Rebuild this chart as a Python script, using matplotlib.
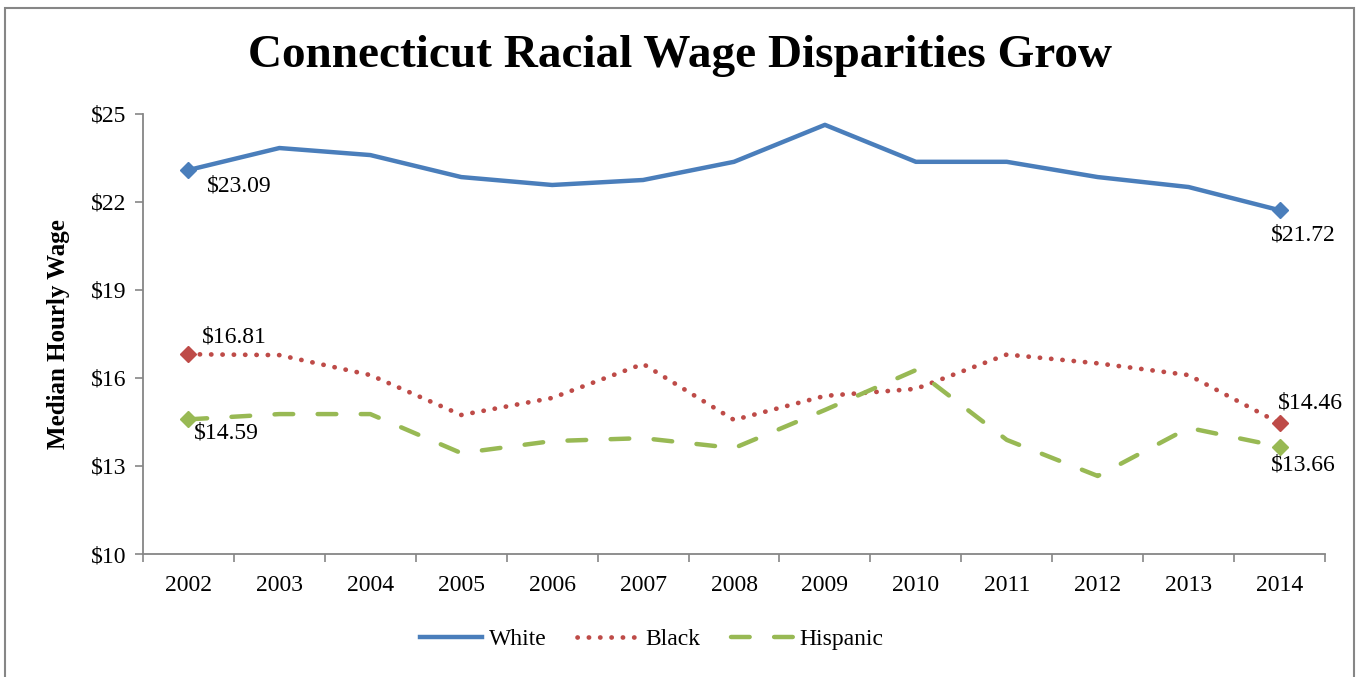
import matplotlib.pyplot as plt
from matplotlib.patches import Rectangle

plt.rcParams['font.family'] = ['Liberation Serif', 'DejaVu Serif']

# Median hourly wage by year and group
years = ['2002', '2003', '2004', '2005', '2006', '2007', '2008',
         '2009', '2010', '2011', '2012', '2013', '2014']
white = [23.09, 23.84, 23.60, 22.85, 22.58, 22.75, 23.37,
         24.63, 23.37, 23.37, 22.85, 22.51, 21.72]
black = [16.81, 16.78, 16.10, 14.74, 15.32, 16.48, 14.57,
         15.39, 15.63, 16.80, 16.50, 16.10, 14.46]
hispanic = [14.59, 14.77, 14.77, 13.44, 13.85, 13.95, 13.61,
            14.91, 16.27, 13.89, 12.66, 14.30, 13.66]

c_white = '#4A7EBB'
c_black = '#BE4B48'
c_hisp = '#98B954'
grey = '#868686'

fig = plt.figure(figsize=(13.59, 6.77), dpi=100)
ax = fig.add_axes([143 / 1359, 1 - 554 / 677, (1325 - 143) / 1359, (554 - 114) / 677])

x = list(range(len(years)))
ax.plot(x, white, color=c_white, lw=3.2, solid_joinstyle='round', label='White')
ax.plot(x, black, color=c_black, lw=3.4, dashes=(0.05, 2.35),
        dash_capstyle='round', label='Black')
ax.plot(x, hispanic, color=c_hisp, lw=3.2, dashes=(4.2, 5.5),
        dash_capstyle='round', label='Hispanic')

# diamond markers at start and end
for vals, col in [(white, c_white), (black, c_black), (hispanic, c_hisp)]:
    ax.plot([x[0], x[-1]], [vals[0], vals[-1]], ls='none', marker='D',
            ms=8, color=col, zorder=4)

lab = dict(fontsize=17, color='black')
ax.annotate(f'${white[0]:.2f}', (x[0], white[0]), xytext=(13, -4), textcoords='offset points', va='top', ha='left', **lab)
ax.annotate(f'${white[-1]:.2f}', (x[-1], white[-1]), xytext=(-6, -10), textcoords='offset points', va='top', ha='left', **lab)
ax.annotate(f'${black[0]:.2f}', (x[0], black[0]), xytext=(10, 5), textcoords='offset points', va='bottom', ha='left', **lab)
ax.annotate(f'${black[-1]:.2f}', (x[-1], black[-1]), xytext=(-1, 7), textcoords='offset points', va='bottom', ha='left', **lab)
ax.annotate(f'${hispanic[0]:.2f}', (x[0], hispanic[0]), xytext=(4, -2), textcoords='offset points', va='top', ha='left', **lab)
ax.annotate(f'${hispanic[-1]:.2f}', (x[-1], hispanic[-1]), xytext=(-6, -6), textcoords='offset points', va='top', ha='left', **lab)

ax.set_xlim(-0.5, len(years) - 0.5)
ax.set_ylim(10, 25)
ax.set_yticks([10, 13, 16, 19, 22, 25])
ax.set_yticklabels([f'${v}' for v in [10, 13, 16, 19, 22, 25]], fontsize=17)
ax.set_xticks(x)
ax.set_xticklabels(years, fontsize=17)
ax.set_xticks([i - 0.5 for i in range(len(years) + 1)], minor=True)
ax.tick_params(axis='x', which='major', length=0, pad=15)
ax.tick_params(axis='x', which='minor', length=6, color=grey, width=1.2)
ax.tick_params(axis='y', length=6, color=grey, width=1.2, pad=6)
for s in ['top', 'right']:
    ax.spines[s].set_visible(False)
for s in ['left', 'bottom']:
    ax.spines[s].set_color(grey)
    ax.spines[s].set_linewidth(1.3)

ax.set_ylabel('Median Hourly Wage', fontsize=18, fontweight='bold', labelpad=15)

fig.text(680 / 1359, 1 - 56 / 677, 'Connecticut Racial Wage Disparities Grow',
         fontsize=34, fontweight='bold', ha='center', va='center')

fig.legend(loc='center', bbox_to_anchor=(652 / 1359, 1 - 639 / 677), ncol=3,
           frameon=False, fontsize=17, handlelength=2.6, columnspacing=1.3,
           handletextpad=0.3)

# outer chart border
fig.patches.append(Rectangle((5 / 1359, -0.02), 1349 / 1359, 1.02 - 8 / 677,
                             transform=fig.transFigure, fill=False,
                             edgecolor=grey, lw=1.5))

fig.savefig('out.png', dpi=100)
